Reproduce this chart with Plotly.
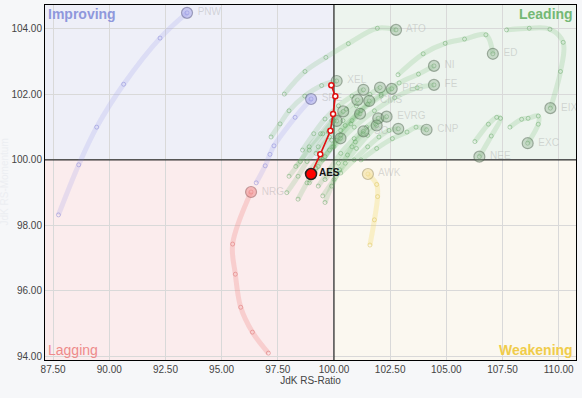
import plotly.graph_objects as go

# ---------------- data (JdK RS-Ratio = x, JdK RS-Momentum = y), oldest -> latest ----------------
x_ticks = [87.5, 90.0, 92.5, 95.0, 97.5, 100.0, 102.5, 105.0, 107.5, 110.0]
y_ticks = [94, 96, 98, 100, 102, 104]

# Leading (green) tails
ATO_x = [97.79, 98.71, 99.64, 100.64, 101.93, 102.76]
ATO_y = [102.01, 102.70, 103.13, 103.55, 104.02, 103.97]
ED_x = [102.85, 103.97, 104.95, 105.81, 106.76, 107.07]
ED_y = [102.60, 103.24, 103.56, 103.69, 103.82, 103.24]
EIX_x = [107.68, 108.69, 109.61, 110.20, 110.08, 109.63]
EIX_y = [103.97, 104.02, 103.99, 103.59, 102.70, 101.58]
EXC_x = [107.83, 108.35, 108.64, 109.09, 109.09, 108.62]
EXC_y = [101.00, 101.24, 101.27, 101.34, 101.09, 100.51]
NEE_x = [106.27, 106.87, 107.24, 107.41, 107.00, 106.47]
NEE_y = [100.56, 101.09, 101.30, 101.27, 100.73, 100.10]
XEL_x = [97.20, 97.60, 98.00, 98.70, 99.45, 100.12]
XEL_y = [100.70, 101.10, 101.50, 101.95, 102.27, 102.41]
AEE_x = [98.60, 99.10, 99.60, 100.20, 100.80, 101.31]
AEE_y = [100.30, 100.80, 101.25, 101.65, 101.95, 102.14]
DTE_x = [99.20, 99.80, 100.40, 101.00, 101.60, 102.05]
DTE_y = [100.20, 100.70, 101.20, 101.65, 102.00, 102.21]
PEG_x = [99.50, 100.10, 100.80, 101.50, 102.10, 102.57]
PEG_y = [100.00, 100.60, 101.20, 101.70, 102.00, 102.17]
NI_x = [100.30, 101.20, 102.10, 102.90, 103.76, 104.45]
NI_y = [100.90, 101.50, 101.95, 102.35, 102.62, 102.87]
FE_x = [100.00, 100.90, 101.80, 102.70, 103.70, 104.45]
FE_y = [100.40, 101.00, 101.50, 101.90, 102.20, 102.29]
DUK_x = [98.30, 98.90, 99.50, 100.00, 100.55, 101.04]
DUK_y = [99.80, 100.30, 100.80, 101.20, 101.55, 101.83]
CMS_x = [98.80, 99.40, 99.90, 100.50, 101.05, 101.57]
CMS_y = [99.60, 100.10, 100.60, 101.05, 101.45, 101.80]
AEP_x = [98.00, 98.50, 98.90, 99.40, 99.90, 100.41]
AEP_y = [99.50, 99.95, 100.40, 100.80, 101.20, 101.48]
LNT_x = [98.90, 99.30, 99.80, 100.30, 100.75, 101.16]
LNT_y = [99.30, 99.80, 100.30, 100.75, 101.10, 101.41]
PPL_x = [99.30, 99.80, 100.30, 100.90, 101.45, 101.97]
PPL_y = [99.20, 99.70, 100.20, 100.65, 101.00, 101.27]
EVRG_x = [99.60, 100.20, 100.80, 101.30, 101.85, 102.34]
EVRG_y = [99.40, 99.90, 100.40, 100.80, 101.10, 101.32]
D_x = [97.90, 98.40, 98.80, 99.30, 99.75, 100.12]
D_y = [99.00, 99.50, 99.95, 100.40, 100.85, 101.19]
WEC_x = [99.50, 100.00, 100.50, 101.00, 101.50, 101.90]
WEC_y = [98.90, 99.40, 99.90, 100.35, 100.75, 101.05]
ES_x = [100.30, 100.90, 101.50, 102.00, 102.45, 102.86]
ES_y = [99.60, 100.00, 100.40, 100.70, 100.90, 100.95]
CNP_x = [101.20, 101.90, 102.60, 103.25, 103.65, 104.12]
CNP_y = [100.00, 100.35, 100.65, 100.85, 101.00, 100.92]
SO_x = [99.60, 99.90, 100.25, 100.60, 100.95, 101.31]
SO_y = [98.70, 99.20, 99.70, 100.15, 100.55, 100.87]
ETR_x = [98.40, 98.80, 99.20, 99.60, 99.95, 100.29]
ETR_y = [98.80, 99.30, 99.75, 100.10, 100.40, 100.66]

# Improving (blue)
PNW_x = [87.74, 88.64, 89.44, 90.64, 92.26, 93.46]
PNW_y = [98.32, 99.85, 101.00, 102.31, 103.72, 104.49]
SRE_x = [96.54, 96.94, 97.15, 97.33, 98.27, 98.98]
SRE_y = [99.30, 99.82, 100.17, 100.43, 101.30, 101.86]
# Lagging (red)
NRG_x = [97.08, 96.37, 95.85, 95.61, 95.49, 96.31]
NRG_y = [94.10, 94.74, 95.50, 96.51, 97.43, 99.02]
# Weakening (yellow)
AWK_x = [101.60, 101.80, 101.94, 101.90, 101.51]
AWK_y = [97.40, 98.17, 98.88, 99.25, 99.57]
# Highlighted
AES_x = [99.88, 100.06, 99.96, 99.84, 99.39, 98.98]
AES_y = [102.28, 101.94, 101.40, 100.89, 100.17, 99.57]

leading = [
    ("ATO", ATO_x, ATO_y, True), ("ED", ED_x, ED_y, True), ("EIX", EIX_x, EIX_y, True),
    ("EXC", EXC_x, EXC_y, True), ("NEE", NEE_x, NEE_y, True), ("XEL", XEL_x, XEL_y, True),
    ("AEE", AEE_x, AEE_y, False), ("DTE", DTE_x, DTE_y, False), ("PEG", PEG_x, PEG_y, True),
    ("NI", NI_x, NI_y, True), ("FE", FE_x, FE_y, True), ("DUK", DUK_x, DUK_y, False),
    ("CMS", CMS_x, CMS_y, True), ("AEP", AEP_x, AEP_y, False), ("LNT", LNT_x, LNT_y, False),
    ("PPL", PPL_x, PPL_y, False), ("EVRG", EVRG_x, EVRG_y, True), ("D", D_x, D_y, False),
    ("WEC", WEC_x, WEC_y, False), ("ES", ES_x, ES_y, False), ("CNP", CNP_x, CNP_y, True),
    ("SO", SO_x, SO_y, True), ("ETR", ETR_x, ETR_y, False),
]
others = [
    ("PNW", PNW_x, PNW_y, "blue"), ("SRE", SRE_x, SRE_y, "blue"),
    ("NRG", NRG_x, NRG_y, "red"), ("AWK", AWK_x, AWK_y, "yellow"),
]

styles = {
    "green": dict(line="rgba(110,185,110,0.2)", mk="rgba(90,160,90,0.42)",
                  fill="rgba(130,165,130,0.35)", edge="rgba(70,90,70,0.45)"),
    "blue": dict(line="rgba(140,140,235,0.18)", mk="rgba(120,120,210,0.42)",
                 fill="rgba(150,150,230,0.45)", edge="rgba(90,90,130,0.5)"),
    "red": dict(line="rgba(240,120,120,0.26)", mk="rgba(220,110,110,0.5)",
                fill="rgba(240,140,140,0.55)", edge="rgba(150,100,100,0.55)"),
    "yellow": dict(line="rgba(245,215,90,0.28)", mk="rgba(220,195,90,0.5)",
                   fill="rgba(245,225,160,0.6)", edge="rgba(160,150,110,0.55)"),
}

FONT = "Liberation Sans, Arial, sans-serif"
fig = go.Figure()


def add_series(name, xs, ys, st, show_label=True):
    s = styles[st]
    fig.add_trace(go.Scatter(
        x=xs, y=ys, mode="lines+markers", line=dict(color=s["line"], width=5, shape="spline"),
        marker=dict(symbol="circle-open", size=4, color=s["mk"], line=dict(width=1)),
        hoverinfo="skip", showlegend=False))
    fig.add_trace(go.Scatter(
        x=[xs[-1]], y=[ys[-1]], mode="markers+text" if show_label else "markers",
        marker=dict(size=11, color=s["fill"], line=dict(color=s["edge"], width=1.2)),
        text=[" " + name], textposition="middle right",
        textfont=dict(family=FONT, size=10, color="rgba(160,160,160,0.38)"),
        name=name, showlegend=False))


for name, xs, ys, lab in leading:
    add_series(name, xs, ys, "green", lab)
for name, xs, ys, st in others:
    add_series(name, xs, ys, st, True)

# highlighted AES
fig.add_trace(go.Scatter(
    x=AES_x, y=AES_y, mode="lines+markers", line=dict(color="#e01010", width=1.6),
    marker=dict(size=5, color="white", line=dict(color="#e01010", width=1.5)),
    hoverinfo="skip", showlegend=False))
fig.add_trace(go.Scatter(
    x=[AES_x[-1]], y=[AES_y[-1]], mode="markers+text",
    marker=dict(size=11, color="#ff0000", line=dict(color="#222222", width=1.5)),
    text=["AES"], textposition="middle right",
    textfont=dict(family=FONT, size=10, color="#111111", weight="bold"),
    name="AES", showlegend=False))

xr = [87.14, 110.77]
yr = [93.89, 104.73]
shapes = [
    dict(type="rect", xref="x", yref="y", x0=xr[0], x1=100, y0=100, y1=yr[1],
         fillcolor="#eeeff8", line_width=0, layer="below"),
    dict(type="rect", xref="x", yref="y", x0=100, x1=xr[1], y0=100, y1=yr[1],
         fillcolor="#edf4ee", line_width=0, layer="below"),
    dict(type="rect", xref="x", yref="y", x0=xr[0], x1=100, y0=yr[0], y1=100,
         fillcolor="#fbeced", line_width=0, layer="below"),
    dict(type="rect", xref="x", yref="y", x0=100, x1=xr[1], y0=yr[0], y1=100,
         fillcolor="#fbf8f0", line_width=0, layer="below"),
    dict(type="line", xref="x", yref="y", x0=100, x1=100, y0=yr[0], y1=yr[1],
         line=dict(color="black", width=1), layer="between"),
    dict(type="line", xref="x", yref="y", x0=xr[0], x1=xr[1], y0=100, y1=100,
         line=dict(color="black", width=1), layer="between"),
]

annotations = [
    dict(text="<b>Improving</b>", xref="paper", yref="paper", x=0, y=1, xanchor="left",
         yanchor="top", xshift=1, yshift=1, showarrow=False,
         font=dict(family=FONT, size=14, color="#8f98dc")),
    dict(text="<b>Leading</b>", xref="paper", yref="paper", x=1, y=1, xanchor="right",
         yanchor="top", xshift=-1, yshift=1, showarrow=False,
         font=dict(family=FONT, size=14, color="#74b874")),
    dict(text="Lagging", xref="paper", yref="paper", x=0, y=0, xanchor="left",
         yanchor="bottom", xshift=1, yshift=0, showarrow=False,
         font=dict(family=FONT, size=14, color="#ee8a8a")),
    dict(text="<b>Weakening</b>", xref="paper", yref="paper", x=1, y=0, xanchor="right",
         yanchor="bottom", xshift=-1, yshift=0, showarrow=False,
         font=dict(family=FONT, size=14, color="#f0cc4a")),
    dict(text="JdK RS-Momentum", xref="paper", yref="paper", x=0, y=0.5, xanchor="center",
         yanchor="middle", xshift=-41, textangle=-90, showarrow=False,
         font=dict(family=FONT, size=10, color="#eceef2")),
]

fig.update_layout(
    width=582, height=398,
    margin=dict(l=45, r=6, t=5, b=38, autoexpand=False),
    paper_bgcolor="#f6f7f9", plot_bgcolor="#ffffff",
    shapes=shapes, annotations=annotations,
    font=dict(family=FONT, size=10, color="#444444"),
    xaxis=dict(range=xr, tickvals=x_ticks, ticktext=[f"{v:.2f}" for v in x_ticks],
               showgrid=True, gridcolor="#d9d9d9", gridwidth=1, zeroline=False,
               showline=True, linecolor="black", linewidth=1, mirror=True, automargin=False,
               ticks="", tickfont=dict(size=10, color="#444444"),
               title=dict(text="JdK RS-Ratio", standoff=2, font=dict(size=10, color="#444444"))),
    yaxis=dict(range=yr, tickvals=y_ticks, ticktext=[f"{v:.2f}" for v in y_ticks],
               showgrid=True, gridcolor="#d9d9d9", gridwidth=1, zeroline=False,
               showline=True, linecolor="black", linewidth=1, mirror=True, automargin=False,
               ticks="", tickfont=dict(size=10, color="#444444")),
)

fig.write_html("out.html", config={"displayModeBar": False},
               post_script="document.body.style.margin='0px';document.body.style.overflow='hidden';")
